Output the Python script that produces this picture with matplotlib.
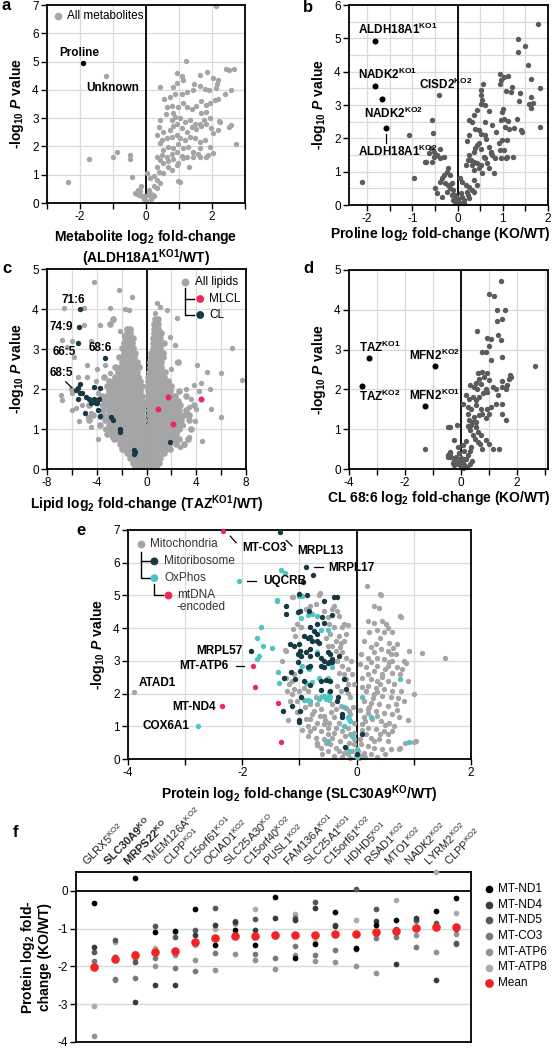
import matplotlib
matplotlib.use('Agg')
import matplotlib.pyplot as plt
import matplotlib.ticker as ticker
import numpy as np

plt.rcParams['font.family'] = ['Liberation Sans', 'DejaVu Sans']
plt.rcParams['axes.unicode_minus'] = False
plt.rcParams['mathtext.fontset'] = 'custom'
plt.rcParams['mathtext.rm'] = 'Liberation Sans'
plt.rcParams['mathtext.it'] = 'Liberation Sans:italic:bold'
plt.rcParams['mathtext.bf'] = 'Liberation Sans:bold'

# ---------------- data: panel a (metabolites, ALDH18A1 KO1 / WT) ----------------
metab_points = [
    (-2.37, 0.74), (-1.74, 1.57), (-1.22, 4.49), (-1.00, 1.64), (-0.87, 1.79), (-0.47, 1.68), (-0.49, 1.56),
    (-0.42, 0.93), (-0.16, 0.61), (-0.24, 0.47), (-0.34, 0.35), (-0.27, 0.33), (-0.12, 0.23), (-0.05, 0.14),
    (0.00, 0.08), (-0.20, 0.30), (2.13, 6.97), (1.20, 5.02),
    (0.43, 4.10), (0.93, 4.60), (1.08, 4.48), (0.93, 4.24), (1.11, 4.34), (0.83, 4.10),
    (1.63, 4.51), (1.85, 4.62), (2.03, 4.43), (2.18, 4.34), (2.16, 4.19), (2.41, 4.75), (2.51, 4.69), (2.68, 4.72),
    (0.56, 3.66), (0.73, 3.75), (0.88, 3.85), (1.08, 3.87), (1.23, 3.93), (1.43, 3.99), (1.46, 4.19), (1.63, 4.13),
    (1.78, 4.04), (1.90, 3.99), (2.11, 4.08), (2.18, 3.66), (2.38, 3.87), (2.58, 3.99),
    (0.63, 3.40), (0.78, 3.42), (0.83, 3.17), (0.98, 3.38), (1.11, 3.52), (1.23, 3.40), (1.38, 3.34), (1.53, 3.42),
    (1.68, 3.60), (1.83, 3.46), (1.95, 3.52), (2.08, 3.63), (1.68, 3.17), (1.83, 3.22),
    (0.43, 2.95), (0.61, 3.14), (0.78, 2.93), (0.88, 3.05), (1.03, 2.99), (1.18, 2.87), (1.33, 2.93), (1.48, 2.81),
    (1.63, 2.79), (1.75, 2.93), (1.93, 2.99), (2.23, 2.87), (2.58, 2.74),
    (0.38, 2.70), (0.53, 2.52), (0.73, 2.58), (0.83, 2.72), (0.93, 2.79), (1.08, 2.64), (1.23, 2.52), (1.38, 2.70),
    (1.53, 2.60), (1.68, 2.72), (1.83, 2.81), (1.98, 2.64), (2.18, 2.58),
    (0.33, 2.40), (0.48, 2.23), (0.63, 2.29), (0.78, 2.34), (0.93, 2.40), (1.03, 2.29), (1.18, 2.23), (1.33, 2.34),
    (1.48, 2.29), (1.63, 2.17), (1.78, 2.23), (1.93, 1.99), (2.03, 2.46),
    (0.43, 2.11), (0.53, 1.88), (0.68, 1.99), (0.83, 1.93), (0.98, 2.09), (1.13, 1.93), (1.28, 1.99), (1.43, 1.82),
    (1.63, 1.93), (1.81, 1.64), (2.03, 1.76), (2.20, 2.90),
    (0.33, 1.64), (0.48, 1.70), (0.63, 1.64), (0.78, 1.74), (0.93, 1.82), (1.08, 1.66), (1.23, 1.62), (1.43, 1.64),
    (1.58, 1.74), (1.88, 1.70), (2.53, 2.70), (2.73, 2.08),
    (0.43, 1.52), (0.53, 1.41), (0.68, 1.47), (0.83, 1.55), (0.98, 1.41), (1.13, 1.58), (1.31, 1.29), (1.63, 1.64),
    (0.33, 1.29), (0.38, 1.11), (0.53, 1.06), (0.68, 1.29), (0.78, 1.15), (0.93, 1.35), (0.98, 0.78),
    (0.03, 1.06), (0.13, 0.88), (0.23, 0.94), (0.33, 0.82), (0.43, 0.70), (0.23, 0.59), (0.33, 0.53), (1.03, 0.76),
    (0.08, 0.47), (0.13, 0.35), (0.18, 0.23), (0.23, 0.23), (0.06, 0.27), (-0.07, 0.23), (-0.17, 0.41), (0.10, 0.40),
    (0.20, 0.30), (0.15, 0.15),
]
proline_point = (-1.90, 4.96)

# ---------------- data: panel b (proline, KO/WT) ----------------
proline_points = [
    (1.78, 5.43), (1.33, 4.99), (1.50, 4.77), (1.33, 4.59), (1.55, 4.19),
    (0.94, 3.94), (1.02, 3.84), (1.12, 3.86), (0.97, 3.74), (0.93, 3.64), (0.56, 3.64), (0.52, 3.44), (0.51, 3.29), (0.55, 3.14),
    (1.63, 3.77), (1.82, 3.51), (1.21, 3.54), (1.18, 3.39), (1.07, 3.41), (1.39, 3.37), (1.62, 3.24), (1.58, 3.04),
    (1.66, 3.07), (1.35, 3.11), (1.63, 2.91),
    (1.01, 2.89), (0.99, 2.79), (1.02, 2.59), (1.12, 2.51), (1.31, 2.57), (1.40, 2.24), (1.13, 2.27), (1.82, 2.34),
    (0.52, 3.04), (0.61, 2.99), (0.44, 2.84), (0.69, 2.82), (0.36, 2.69), (0.31, 2.49), (0.26, 2.54), (0.61, 2.49), (0.76, 2.41),
    (0.39, 2.29), (0.48, 2.24), (0.26, 2.09), (0.52, 2.14), (0.61, 2.09), (0.64, 1.99), (0.21, 1.91),
    (0.48, 1.87), (0.44, 1.79), (0.39, 1.71), (0.52, 1.69), (0.69, 1.74), (0.74, 1.60), (0.77, 1.50), (0.82, 1.40),
    (0.99, 1.94), (0.93, 1.65), (0.97, 1.42), (1.07, 1.42),
    (0.36, 1.60), (0.26, 1.50), (0.23, 1.35), (0.36, 1.30), (0.44, 1.25), (0.52, 1.20), (0.33, 1.20), (0.18, 1.20), (0.61, 1.40),
    (-0.42, 3.29), (-0.57, 2.54), (-0.55, 2.17), (-0.39, 1.69), (-0.53, 1.60), (-0.46, 1.50), (-0.31, 1.45), (-0.57, 1.30),
    (-0.72, 1.28), (-0.39, 1.40),
    (-0.21, 1.10), (-0.24, 1.00), (-0.17, 0.90), (-0.31, 0.90), (-0.35, 0.80), (-0.39, 0.70), (-0.28, 0.65), (-0.21, 0.60), (-0.13, 0.65),
    (-0.50, 0.50), (-0.46, 0.35), (-0.35, 0.25), (-0.24, 0.40), (-0.17, 0.50), (-0.10, 0.45),
    (0.06, 0.80), (0.10, 0.70), (0.18, 0.60), (0.26, 0.55), (0.31, 0.45), (0.36, 0.40), (0.23, 0.30), (0.10, 0.25),
    (-0.02, 0.20), (-0.06, 0.30), (-0.13, 0.30), (0.01, 0.10), (0.14, 0.15), (0.26, 0.20),
    (-2.11, 0.70), (-1.08, 2.11), (-0.97, 0.82), (-0.70, 1.28), (-0.59, 1.70), (-0.64, 1.55), (-0.51, 1.45),
    (0.05, 0.05), (-0.05, 0.08), (0.00, 0.15), (0.08, 0.35), (-0.10, 0.15), (0.15, 0.05), (0.20, 0.40),
    (0.66, 1.25), (0.73, 1.55), (0.59, 1.45), (0.80, 0.95), (0.70, 1.10), (0.48, 1.10), (0.37, 1.05), (0.29, 1.35),
    (0.55, 0.95), (0.37, 0.75), (0.42, 0.60),
    (1.10, 1.45), (1.23, 1.45), (1.03, 1.65), (0.92, 1.85), (1.10, 1.95), (1.25, 2.30), (1.06, 2.35), (0.84, 2.20),
    (0.95, 2.55), (1.43, 2.20),
]
proline_hits_x = [-1.83, -1.82, -1.66, -1.59]
proline_hits_y = [4.93, 3.56, 3.17, 2.32]

# ---------------- data: panel c (lipids, TAZ KO1 / WT) ----------------
# dense cloud, read row by row (-log10 P, fold-changes along the row)
lipid_row_p = [0.05, 0.15, 0.27, 0.39, 0.51, 0.63, 0.75, 0.87, 0.99, 1.11, 1.23, 1.35, 1.47, 1.59, 1.71, 1.83,
               1.95, 2.07, 2.19, 2.31, 2.43, 2.55, 2.67, 2.79, 2.91, 3.03, 3.15, 3.27, 3.39, 3.51, 3.63, 3.75]
lipid_row_fc = [
    [-0.9, -0.6, -0.3, 0, 0.3, 0.6, 0.8],
    [-1.1, -0.8, -0.5, -0.2, 0.1, 0.4, 0.7, 1.0],
    [-1.3, -1.0, -0.7, -0.4, -0.1, 0.2, 0.5, 0.8, 1.1],
    [-1.6, -1.3, -1.0, -0.7, -0.4, -0.1, 0.2, 0.5, 0.8, 1.1, 1.4],
    [-2.0, -1.7, -1.4, -1.1, -0.8, -0.5, -0.2, 0.1, 0.4, 0.7, 1.0, 1.3, 1.6, 1.9],
    [-2.1, -1.8, -1.5, -1.2, -0.9, -0.6, -0.3, 0, 0.3, 0.6, 0.9, 1.2, 1.5, 1.8, 2.4, 3.0],
    [-2.6, -2.3, -2.0, -1.7, -1.4, -1.1, -0.8, -0.5, -0.2, 0.1, 0.4, 0.7, 1.0, 1.3, 1.6, 2.0, 2.3, 2.6, 3.3],
    [-3.2, -2.7, -2.4, -2.1, -1.8, -1.5, -1.2, -0.9, -0.6, -0.3, 0, 0.3, 0.6, 0.9, 1.2, 1.5, 1.8, 2.1, 2.4],
    [-2.9, -2.6, -2.3, -2.0, -1.7, -1.4, -1.1, -0.8, -0.5, -0.2, 0.1, 0.4, 0.7, 1.0, 1.3, 1.6, 1.9, 2.2, 2.6, 3.6],
    [-3.7, -3.0, -2.7, -2.4, -2.1, -1.8, -1.5, -1.2, -0.9, -0.6, -0.3, 0.2, 0.5, 0.8, 1.1, 1.4, 1.7, 2.0, 2.3, 2.7],
    [-4.6, -3.3, -2.9, -2.6, -2.3, -2.0, -1.7, -1.4, -1.1, -0.8, -0.5, -0.2, 0.3, 0.6, 0.9, 1.2, 1.5, 1.8, 2.1, 2.4, 2.8, 3.4],
    [-4.3, -3.6, -3.1, -2.8, -2.5, -2.2, -1.9, -1.6, -1.3, -1.0, -0.7, -0.4, 0.2, 0.5, 0.8, 1.1, 1.4, 1.7, 2.0, 2.3, 2.6, 3.0, 3.4],
    [-3.5, -3.0, -2.7, -2.4, -2.1, -1.8, -1.5, -1.2, -0.9, -0.6, -0.3, 0.2, 0.5, 0.8, 1.1, 1.4, 1.7, 2.0, 2.3, 2.6, 3.2],
    [-4.6, -3.2, -2.9, -2.6, -2.3, -2.0, -1.7, -1.4, -1.1, -0.8, -0.5, -0.2, 0.2, 0.5, 0.8, 1.1, 1.4, 1.7, 2.0, 2.3, 2.7, 3.8],
    [-3.4, -3.0, -2.7, -2.4, -2.1, -1.8, -1.5, -1.2, -0.9, -0.6, -0.3, 0.1, 0.4, 0.7, 1.0, 1.3, 1.6, 1.9, 2.2, 2.5],
    [-3.6, -3.2, -2.8, -2.5, -2.2, -1.9, -1.6, -1.3, -1.0, -0.7, -0.4, 0.15, 0.45, 0.75, 1.05, 1.35, 1.65, 1.95, 2.3, 3.2],
    [-3.0, -2.6, -2.3, -2.0, -1.7, -1.4, -1.1, -0.8, -0.5, 0.1, 0.4, 0.7, 1.0, 1.3, 1.6, 1.9, 2.6],
    [-3.2, -2.8, -2.5, -2.2, -1.9, -1.6, -1.3, -1.0, -0.7, -0.4, 0.1, 0.4, 0.7, 1.0, 1.3, 1.6, 2.0],
    [-3.0, -2.6, -2.3, -2.0, -1.7, -1.4, -1.1, -0.8, -0.5, 0.1, 0.4, 0.7, 1.0, 1.3, 1.7],
    [-3.4, -2.5, -2.2, -1.9, -1.6, -1.3, -1.0, -0.7, 0.15, 0.45, 0.75, 1.05, 1.4],
    [-2.3, -2.0, -1.7, -1.4, -1.1, -0.8, 0.2, 0.5, 0.8, 1.1, 1.5],
    [-2.5, -2.1, -1.8, -1.5, -1.2, -0.9, -0.6, 0.3, 0.6, 0.9, 1.2],
    [-2.0, -1.7, -1.4, -1.1, -0.8, 0.3, 0.6, 0.9, 1.2, 2.5],
    [-2.2, -1.9, -1.6, -1.3, -1.0, 0.4, 0.7, 1.0, 1.3],
    [-1.8, -1.5, -1.2, -0.9, 0.4, 0.7, 1.0, 1.3],
    [-2.0, -1.7, -1.4, -1.1, 0.5, 0.8, 1.1],
    [-1.8, -1.5, -1.2, 0.5, 0.8, 1.1, 1.4],
    [-1.7, -1.4, -1.1, 0.5, 0.8, 1.1],
    [-1.6, -1.3, 0.6, 0.9, 1.2],
    [-1.6, -1.3, 0.6, 0.9],
    [-2.9, 0.6, 0.9],
    [-2.7, 0.7, 0.95],
]
lipid_sparse = [
    (-4.24, 4.68), (-2.23, 4.48), (-2.90, 4.02), (-1.15, 4.31), (-6.65, 4.02), (-5.04, 4.02), (-3.70, 3.60),
    (-6.78, 3.23), (-6.38, 3.06), (-1.69, 4.00), (-1.42, 3.97), (-2.68, 3.73), (-2.15, 3.44), (-1.80, 3.35),
    (-4.50, 3.20), (-5.80, 2.80), (-4.80, 2.60), (-4.00, 2.50), (-3.30, 2.60), (-2.90, 2.40), (-6.90, 1.85),
    (-6.80, 1.72), (-5.98, 1.48), (-5.70, 1.52), (-5.20, 1.60), (-5.40, 1.20), (-4.70, 1.30), (-4.50, 1.40),
    (-3.75, 1.30), (-3.60, 1.60), (-3.90, 1.90), (-4.10, 2.20), (-4.80, 2.30), (-3.30, 1.00), (-2.80, 0.80),
    (-3.90, 0.75), (-4.50, 1.05), (-6.00, 1.90), (-6.10, 2.00), (-5.50, 2.30), (-6.00, 3.20), (-5.00, 3.60),
    (0.86, 4.14), (1.66, 3.98), (2.47, 3.77), (1.10, 4.05), (0.70, 3.90), (2.33, 3.10), (2.47, 2.68), (4.08, 2.60),
    (6.89, 3.02), (7.70, 2.23), (4.88, 2.43), (5.95, 2.39), (5.95, 1.31), (3.40, 1.55), (3.60, 1.75), (4.20, 1.95),
    (3.20, 2.00), (4.00, 1.50), (3.90, 1.20), (2.90, 1.10), (4.50, 0.70), (3.40, 0.80), (3.00, 0.60), (2.70, 0.55),
    (4.40, 2.15), (3.80, 2.10), (1.90, 3.30), (2.00, 2.50), (5.12, 1.99), (5.20, 1.50),
]
cl_points = [
    (-5.36, 3.99), (-5.39, 3.55), (-5.52, 3.15), (-3.32, 2.77),
    (-5.34, 2.12), (-5.47, 2.02), (-5.68, 1.97), (-5.36, 1.89), (-5.15, 1.91), (-5.52, 1.74), (-4.88, 1.81),
    (-4.26, 2.04), (-4.61, 1.74), (-4.21, 1.74), (-4.08, 1.64), (-4.48, 1.64), (-3.94, 1.64), (-3.81, 1.76),
    (-3.75, 2.02), (-4.91, 1.41), (-3.91, 1.47), (-3.73, 1.33), (-2.87, 1.30), (-2.73, 1.22), (-2.14, 0.99),
    (-2.12, 0.93), (-0.99, 0.48), (-0.94, 0.42), (-0.97, 0.37), (1.90, 0.68),
]
mlcl_fc = [1.69, 0.94, 2.14, 4.37]
mlcl_p = [1.81, 1.50, 1.12, 1.74]

# ---------------- data: panel d (CL 68:6, KO/WT) ----------------
cl686_points = [
    (1.44, 4.72), (1.00, 4.40), (1.18, 4.35), (1.27, 3.99), (1.55, 3.99), (1.29, 3.72), (1.47, 3.76), (0.56, 3.46),
    (1.32, 3.36), (1.41, 3.24), (0.94, 3.28), (1.06, 3.26), (1.00, 3.09), (0.76, 2.94), (0.88, 2.93), (1.47, 2.82),
    (1.06, 2.75), (2.62, 2.58), (0.59, 2.40), (0.74, 2.44), (0.82, 2.32), (0.65, 2.27), (0.94, 2.40), (0.53, 2.15),
    (1.76, 2.36), (1.79, 2.30), (1.71, 2.25),
    (0.33, 2.11), (0.45, 2.06), (0.55, 2.02), (0.71, 2.13), (0.88, 2.02), (1.00, 2.23), (1.12, 2.06), (1.24, 2.02),
    (1.33, 1.85), (1.47, 2.06), (1.59, 2.02), (1.65, 2.11), (1.47, 2.20),
    (0.18, 1.85), (0.29, 1.77), (0.41, 1.81), (0.53, 1.73), (0.65, 1.81), (0.79, 1.90), (0.94, 1.94),
    (0.06, 1.64), (0.24, 1.56), (0.35, 1.52), (0.53, 1.60), (0.71, 1.52), (0.76, 1.39), (0.91, 1.52), (1.06, 1.56),
    (1.24, 1.64), (1.00, 1.39), (0.88, 1.27), (0.65, 1.35), (0.53, 1.18), (0.47, 1.31),
    (1.47, 1.64), (1.59, 1.22), (1.47, 1.39),
    (0.24, 1.39), (0.29, 1.22), (0.35, 1.10), (0.41, 1.18), (0.53, 1.06), (0.59, 0.93), (0.71, 0.85), (0.88, 0.72),
    (1.00, 0.64), (1.12, 0.51), (1.35, 0.51), (0.76, 0.51),
    (0.26, 1.07), (0.33, 0.97), (0.41, 0.85), (0.51, 0.76), (0.59, 0.68), (0.67, 0.64),
    (0.00, 0.05), (0.06, 0.15), (0.12, 0.10), (-0.06, 0.20), (-0.12, 0.12), (0.18, 0.25), (0.24, 0.35), (0.30, 0.45),
    (0.35, 0.55), (-0.18, 0.30), (-0.24, 0.20), (-0.30, 0.15), (-0.35, 0.30), (-0.41, 0.42), (-0.47, 0.35),
    (-0.24, 0.10), (0.20, 0.05), (0.30, 0.12), (0.40, 0.20), (0.12, 0.45), (-0.06, 0.40), (0.06, 0.60), (0.18, 0.70),
    (-0.12, 0.55), (0.10, 0.25), (-0.02, 0.28), (0.08, 0.02),
    (-0.47, 1.06), (-0.41, 1.06), (-0.14, 1.10), (-0.24, 0.74), (-0.41, 0.41), (-0.47, 0.30), (-1.29, 0.50),
]
cl686_hits_x = [-3.29, -3.55, -0.93, -1.29]
cl686_hits_y = [2.79, 2.08, 2.59, 1.59]

# ---------------- data: panel e (proteins, SLC30A9 KO / WT) ----------------
mito_points = [
    (-1.13, 4.94), (-0.66, 5.02), (0.42, 5.02), (-3.90, 2.06), (0.18, 5.30), (0.41, 5.04), (0.76, 4.36),
    (1.15, 3.25), (1.55, 3.10), (0.87, 2.93), (1.03, 0.54), (0.76, 0.34), (-1.25, 3.34), (-0.70, 0.44),
    (-1.12, 4.94), (-0.64, 5.07),
    (-0.40, 4.68), (-0.43, 4.58), (-0.34, 4.53), (-0.31, 4.38), (-0.22, 4.14), (-0.16, 4.10), (-0.25, 4.02),
    (-0.19, 3.82), (-0.31, 3.77), (-0.37, 3.61), (-0.28, 3.56), (-0.22, 3.61), (-0.29, 3.41), (-0.25, 3.26),
    (-0.19, 3.10), (-0.34, 3.00), (-0.25, 2.85), (-0.16, 2.74), (-0.31, 2.64), (-0.22, 2.59), (-0.19, 2.44),
    (-0.16, 2.29), (-0.34, 2.23), (-0.28, 2.08), (-0.16, 2.03), (-0.11, 1.88), (-0.43, 1.67), (-0.37, 1.52),
    (-0.28, 1.62), (-0.19, 1.57), (-0.13, 1.47), (-0.11, 1.37), (-0.40, 1.27), (-0.31, 1.11), (-0.37, 0.96),
    (-0.25, 0.86), (-0.16, 0.96), (-0.11, 0.76), (-0.05, 0.60), (-0.13, 0.50), (-0.19, 0.35), (-0.08, 0.24),
    (-0.05, 0.45), (-0.02, 0.09), (0.04, 0.04), (-0.11, 0.04),
    (-0.69, 1.67), (-0.63, 1.52), (-0.75, 1.47), (-0.57, 1.32), (-0.81, 1.21), (-0.69, 1.11), (-0.57, 1.06),
    (-0.48, 1.11), (-0.75, 0.96), (-0.63, 0.86), (-0.51, 0.76), (-0.81, 0.86), (-0.72, 0.65), (-0.57, 0.60),
    (-0.43, 0.65), (-0.46, 0.45), (-0.37, 0.35), (-0.31, 0.24), (-0.22, 0.19), (-0.51, 0.24), (-0.63, 0.35),
    (-0.54, 0.50), (-0.86, 1.01), (-0.89, 1.21), (-0.78, 1.37),
    (-1.10, 2.59), (-1.13, 2.39), (-1.10, 2.13), (-1.01, 2.08), (-0.92, 2.18), (-0.86, 2.08), (-1.13, 1.98),
    (-1.04, 1.78), (-0.81, 1.67), (-0.72, 1.88), (-1.24, 3.31), (-1.30, 3.00), (-1.23, 2.49), (-1.19, 2.29),
    (-1.21, 2.08), (-1.16, 1.78),
    (-0.57, 4.53), (-0.51, 4.33), (-0.48, 4.12), (-0.40, 4.02), (-0.46, 3.82), (-0.54, 3.71), (-0.43, 3.46),
    (-0.51, 3.46), (-0.37, 3.31), (-0.72, 4.73), (-0.81, 4.68), (-0.89, 4.58), (-1.04, 4.12), (-1.11, 3.97),
    (-1.07, 3.77), (-0.97, 4.02),
    (0.39, 4.63), (0.30, 4.68), (0.51, 4.12), (0.45, 4.22), (0.48, 3.87), (0.77, 4.33), (0.30, 4.17), (0.19, 4.22),
    (0.62, 3.87), (0.22, 3.87), (0.71, 3.51), (0.57, 3.56), (0.33, 3.51), (0.25, 3.41), (0.42, 3.36), (0.30, 3.26),
    (0.54, 3.31), (0.68, 3.20), (0.19, 3.10), (0.36, 3.10), (0.48, 3.05), (0.62, 3.00), (0.83, 3.00), (0.25, 2.95),
    (0.16, 2.80), (0.36, 2.85), (0.54, 2.85), (0.71, 2.80), (0.30, 2.69), (0.19, 2.59), (0.45, 2.59), (0.62, 2.64),
    (0.80, 2.74), (0.10, 2.49), (0.25, 2.44), (0.36, 2.39), (0.54, 2.39), (0.65, 2.29), (0.89, 2.39), (0.19, 2.23),
    (0.33, 2.18), (0.48, 2.13), (0.62, 2.08), (0.16, 2.08), (0.30, 1.98), (0.45, 1.93), (0.60, 1.88), (0.77, 2.08),
    (0.13, 1.78), (0.25, 1.72), (0.39, 1.67), (0.54, 1.62), (0.68, 1.67), (0.83, 1.78), (0.19, 1.52), (0.33, 1.47),
    (0.48, 1.42), (0.62, 1.37), (0.13, 1.27), (0.27, 1.21), (0.42, 1.16), (0.57, 1.11), (0.74, 1.27), (0.10, 1.06),
    (0.19, 0.96), (0.33, 0.91), (0.48, 0.86), (0.62, 0.86), (0.16, 0.76), (0.25, 0.65), (0.39, 0.60), (0.54, 0.55),
    (0.74, 0.30), (1.00, 0.52), (0.07, 0.45), (0.19, 0.40), (0.30, 0.35), (0.45, 0.30), (0.13, 0.19), (0.25, 0.14),
    (0.05, 0.60), (0.10, 0.90), (0.15, 1.15), (0.20, 1.40), (0.22, 1.60), (0.28, 1.85), (0.35, 2.05), (0.40, 2.30),
    (0.45, 2.50), (0.50, 2.75), (0.56, 2.95), (0.60, 3.20), (0.64, 3.40), (0.40, 3.70), (0.55, 4.00), (0.35, 3.95),
    (0.12, 3.60), (0.08, 3.20), (0.05, 2.90), (0.10, 2.20), (0.05, 1.50), (0.35, 1.30), (0.50, 1.05), (0.40, 0.75),
    (0.30, 0.55), (0.55, 0.75), (0.65, 1.00), (0.70, 1.50), (0.72, 1.85), (0.75, 2.60), (0.92, 3.30), (1.00, 2.00),
    (0.90, 1.20), (0.85, 0.50), (0.60, 0.30), (0.50, 0.15), (0.35, 0.05), (0.15, 0.05), (0.08, 0.10), (0.02, 0.25),
    (-0.05, 1.10), (-0.07, 1.60), (-0.05, 2.30), (-0.09, 2.60), (-0.10, 3.00), (-0.05, 0.80), (-0.20, 0.70),
    (-0.30, 0.55), (-0.40, 0.80), (-0.50, 0.95), (-0.55, 1.20), (-0.65, 1.30), (-0.45, 1.45), (-0.70, 0.50),
    (-0.85, 0.70), (-0.95, 0.90), (-0.60, 0.15), (-0.40, 0.10), (-0.25, 0.05), (-0.15, 0.15), (-1.05, 1.45),
    (-1.20, 1.20), (-0.90, 1.60),
]
mitoribosome_points = [
    (-1.34, 6.94), (-0.89, 5.86), (-0.76, 5.63), (-0.94, 5.40), (-1.85, 3.30),
    (-1.00, 5.05), (-0.87, 5.02), (-0.57, 4.83), (-0.40, 4.94), (-0.34, 4.94), (-1.23, 4.68), (-1.23, 4.43),
    (-1.02, 4.48), (-0.99, 4.53), (-0.84, 4.53), (-0.44, 4.41),
    (-0.60, 4.35), (-0.57, 4.17), (-0.70, 4.12), (-0.81, 4.02), (-0.75, 3.92), (-0.82, 3.73), (-0.69, 3.82),
    (-0.78, 3.61), (-0.86, 3.71), (-0.93, 3.77), (-1.01, 3.51), (-0.70, 3.61), (-0.66, 3.56), (-1.16, 3.51),
    (-1.10, 3.46), (-0.99, 3.31), (-1.03, 3.20), (-0.98, 3.15), (-0.89, 3.26), (-0.82, 3.36), (-0.82, 3.15),
    (-0.69, 3.20), (-0.63, 3.10), (-0.51, 3.26), (-0.46, 3.20), (-0.43, 3.05), (-0.31, 3.15), (-0.57, 3.00),
    (-0.51, 2.92), (-0.48, 2.98), (-0.43, 2.95), (-1.03, 2.95), (-0.99, 2.69), (-0.81, 2.85), (-0.63, 2.85),
    (-0.57, 2.80), (-0.85, 2.80), (-1.07, 2.44), (-0.92, 2.39), (-0.81, 2.27), (-0.63, 2.39), (-0.53, 2.41),
    (-0.46, 2.37), (-0.22, 2.44), (-0.63, 2.10), (-0.46, 2.08), (-0.19, 2.13), (-0.98, 1.90), (-0.32, 1.90),
    (-0.34, 1.78), (-1.13, 1.62), (-0.99, 1.47), (-1.01, 1.13), (-0.25, 1.37), (-0.25, 1.27), (0.10, 0.76),
    (-0.20, 0.37), (0.01, 0.14), (-1.14, 2.66), (-1.27, 2.47), (-1.28, 1.48), (-1.00, 1.19),
]
oxphos_points = [
    (-2.06, 5.45), (-1.32, 5.79), (-1.26, 5.68), (-1.39, 4.87), (-2.78, 1.01), (-0.99, 5.02),
    (-1.01, 4.97), (-0.95, 4.97), (-1.40, 4.84), (-0.86, 4.41), (-0.78, 4.43), (-0.70, 4.38), (-0.98, 4.31),
    (-0.63, 3.94), (-0.51, 3.94), (-1.67, 4.04), (-1.74, 3.71), (-1.63, 3.46), (-1.48, 3.38), (-1.71, 3.15),
    (-1.74, 3.05), (-0.70, 3.28), (-0.95, 2.85), (-0.84, 2.74), (-0.43, 2.82), (-1.38, 2.66), (-1.36, 2.31),
    (-0.66, 2.47), (-0.51, 2.49), (-0.78, 2.34), (-0.89, 2.31), (-0.48, 2.06), (-0.63, 1.90), (-0.57, 1.93),
    (-0.51, 1.88), (-0.66, 1.83), (-0.54, 1.83), (-0.46, 1.88), (-0.86, 1.80), (-0.92, 1.80), (-0.81, 1.78),
    (-0.48, 1.80), (-0.22, 1.59), (-0.16, 1.27), (-0.13, 1.21), (-0.11, 1.16), (-0.22, 1.01), (0.10, 1.88),
    (0.25, 1.29), (-0.09, 0.70), (-0.50, 0.55), (0.01, 0.30), (-0.13, 0.24), (0.75, 2.46), (0.92, 0.52), (0.00, 0.05),
]
mtdna_fc = [-2.33, -1.82, -1.77, -2.35, -1.37, -1.32]
mtdna_p = [6.97, 2.85, 2.20, 1.63, 1.71, 0.52]

# ---------------- data: panel f (mtDNA-encoded proteins across KO lines) ----------------
ko_lines = ['GLRX5$^{\\mathrm{KO2}}$', 'SLC30A9$^{\\mathbf{KO}}$', 'MRPS22$^{\\mathbf{KO}}$', 'TMEM126A$^{\\mathrm{KO2}}$',
            'CLPP$^{\\mathrm{KO1}}$', 'C15orf61$^{\\mathrm{KO1}}$', 'OCIAD1$^{\\mathrm{KO2}}$', 'SLC25A30$^{\\mathrm{KO}}$',
            'C15orf40$^{\\mathrm{KO2}}$', 'PUSL1$^{\\mathrm{KO2}}$', 'FAM136A$^{\\mathrm{KO1}}$', 'SLC25A1$^{\\mathrm{KO1}}$',
            'C15orf61$^{\\mathrm{KO2}}$', 'HDHD5$^{\\mathrm{KO1}}$', 'RSAD1$^{\\mathrm{KO2}}$', 'MTO1$^{\\mathrm{KO2}}$',
            'NADK2$^{\\mathrm{KO2}}$', 'LYRM2$^{\\mathrm{KO2}}$', 'CLPP$^{\\mathrm{KO2}}$']
bold_lines = [1, 2]
mt_nd1 = [-0.33, -1.78, 0.35, -1.09, -1.06, -0.48, -1.42, -1.04, -1.42, -0.17, -1.77, -1.40, -0.55, -1.50, -0.90, -0.78, -0.95, -0.54, -0.19]
mt_nd4 = [-1.49, -1.74, -2.94, -2.50, -2.48, -1.16, -0.89, -0.82, -1.04, -0.72, -0.78, -0.45, -0.94, -1.55, -0.81, -1.93, -0.72, -2.35, -1.00]
mt_nd5 = [-1.63, -1.29, -1.87, -0.94, -1.22, -1.03, -0.45, -1.20, -0.74, -1.15, -0.72, -0.29, -0.90, 0.04, -0.48, -1.00, -0.76, -0.84, -1.37]
mt_co3 = [-1.85, -2.33, -2.30, -1.78, -2.04, -2.11, -1.65, -0.80, -1.66, -1.77, -1.46, -1.70, -1.57, -1.13, -1.26, -1.22, -1.48, -0.96, -1.41]
mt_atp6 = [-3.83, -2.35, -1.78, -1.98, -1.71, -1.83, -2.09, -1.67, -1.83, -2.06, -1.70, -1.85, -1.88, -2.00, -2.17, -1.10, -1.16, -1.61, -1.15]
mt_atp8 = [-3.04, -1.35, -1.65, -1.52, -1.10, -1.43, -1.02, -0.87, -0.48, -1.20, -0.61, -1.35, -1.15, -0.77, -1.10, -0.24, -0.81, 0.50, -0.59]
mt_mean = [-2.02, -1.81, -1.70, -1.63, -1.59, -1.34, -1.24, -1.20, -1.19, -1.18, -1.17, -1.17, -1.15, -1.14, -1.10, -1.05, -0.99, -0.96, -0.96]
gene_names = ['MT-ND1', 'MT-ND4', 'MT-ND5', 'MT-CO3', 'MT-ATP6', 'MT-ATP8']
gene_colors = ['#000000', '#3a3a3a', '#575757', '#787878', '#939393', '#ababab']

# ---------------- styling constants ----------------
LIGHT = '#a5a5a8'
DARK = '#5b5b5b'
NAVY = '#163a44'
TEAL = '#4fc4c2'
PINK = '#ea2a5e'
GRID = '#dadada'
PTS = 15
ANN = 8.5

W, H = 552, 1050
fig = plt.figure(figsize=(W / 100, H / 100), dpi=100)


def add_px_axes(left, top, right, bottom):
    return fig.add_axes([left / W, 1 - bottom / H, (right - left) / W, (bottom - top) / H])


def style_volcano(ax, xlim, ylim, xmajor, xminor, ygrid):
    ax.set_xlim(xlim)
    ax.set_ylim(ylim)
    ax.xaxis.set_major_locator(ticker.MultipleLocator(xmajor))
    ax.xaxis.set_minor_locator(ticker.MultipleLocator(xminor))
    ax.yaxis.set_major_locator(ticker.MultipleLocator(1))
    ax.yaxis.set_minor_locator(ticker.MultipleLocator(ygrid))
    ax.grid(True, which='both', color=GRID, lw=0.9)
    ax.set_axisbelow(True)
    ax.tick_params(which='both', direction='out', length=4, width=1, labelsize=8.5, pad=2)
    ax.tick_params(axis='y', which='minor', length=0)
    ax.axvline(0, color='black', lw=1.3, zorder=1.5)
    for s in ax.spines.values():
        s.set_linewidth(1.3)
    ax.set_ylabel('-log$_{\\mathbf{10}}$ $P$ value', fontsize=10, fontweight='bold', labelpad=4)


def scatter_pairs(ax, pairs, color, size=PTS, z=2):
    arr = np.array(pairs)
    ax.scatter(arr[:, 0], arr[:, 1], s=size, color=color, linewidths=0, zorder=z, clip_on=False)


def bold(ax, x, y, s, **kw):
    ax.text(x, y, s, fontsize=ANN, fontweight='bold', **kw)


# ---------------- panel a ----------------
ax_a = add_px_axes(47, 5, 245, 203)
style_volcano(ax_a, (-3, 3), (0, 7), 2, 1, 1)
scatter_pairs(ax_a, metab_points, LIGHT)
ax_a.scatter([proline_point[0]], [proline_point[1]], s=PTS, color='black', linewidths=0, zorder=3)
bold(ax_a, -2.02, 5.3, 'Proline', ha='center', va='center')
bold(ax_a, -1.0, 4.08, 'Unknown', ha='center', va='center')
ax_a.scatter([0.056], [0.944], s=30, color=LIGHT, linewidths=0, transform=ax_a.transAxes)
ax_a.text(0.1, 0.944, 'All metabolites', fontsize=8.5, va='center', transform=ax_a.transAxes)
ax_a.set_xlabel('Metabolite log$_{\\mathbf{2}}$ fold-change\n(ALDH18A1$^{\\mathbf{KO1}}$/WT)',
                fontsize=10, fontweight='bold', labelpad=3, linespacing=1.1)

# ---------------- panel b ----------------
ax_b = add_px_axes(349, 5, 548, 205)
style_volcano(ax_b, (-2.4, 2.0), (0, 6), 1, 0.5, 0.5)
scatter_pairs(ax_b, proline_points, DARK)
ax_b.scatter(proline_hits_x, proline_hits_y, s=PTS + 4, color='black', linewidths=0, zorder=3)
bold(ax_b, -2.21, 5.28, 'ALDH18A1$^{\\mathbf{KO1}}$', ha='left', va='center')
bold(ax_b, -2.21, 3.92, 'NADK2$^{\\mathbf{KO1}}$', ha='left', va='center')
bold(ax_b, -2.07, 2.74, 'NADK2$^{\\mathbf{KO2}}$', ha='left', va='center')
bold(ax_b, -2.21, 1.60, 'ALDH18A1$^{\\mathbf{KO2}}$', ha='left', va='center')
bold(ax_b, -0.86, 3.61, 'CISD2$^{\\mathbf{KO2}}$', ha='left', va='center')
ax_b.plot([-1.59, -1.59], [2.14, 1.86], color='black', lw=0.9)
ax_b.set_xlabel('Proline log$_{\\mathbf{2}}$ fold-change (KO/WT)', fontsize=10, fontweight='bold', labelpad=3,
                ha='right')
ax_b.xaxis.set_label_coords((551 - 349) / 199, -0.1)

# ---------------- panel c ----------------
ax_c = add_px_axes(47, 269, 246, 469)
style_volcano(ax_c, (-8, 8), (0, 5), 4, 2, 1)
for p, row in zip(lipid_row_p, lipid_row_fc):
    ax_c.scatter(row, [p] * len(row), s=PTS + 8, color=LIGHT, linewidths=0, zorder=2)
scatter_pairs(ax_c, lipid_sparse, LIGHT)
scatter_pairs(ax_c, cl_points, NAVY, z=3)
ax_c.scatter(mlcl_fc, mlcl_p, s=PTS + 4, color=PINK, linewidths=0, zorder=3)
bold(ax_c, -5.87, 4.23, '71:6', ha='center', va='center')
bold(ax_c, -6.89, 3.55, '74:9', ha='center', va='center')
bold(ax_c, -6.57, 2.93, '66:5', ha='center', va='center')
bold(ax_c, -3.73, 3.02, '68:6', ha='center', va='center')
bold(ax_c, -6.81, 2.41, '68:5', ha='center', va='center')
ax_c.plot([-6.49, -6.0], [2.18, 2.03], color='black', lw=0.9)
# legend with bracket
ax_c.scatter([0.693], [0.935], s=32, color=LIGHT, linewidths=0, transform=ax_c.transAxes, zorder=4)
ax_c.text(0.745, 0.935, 'All lipids', fontsize=8.5, va='center', transform=ax_c.transAxes)
ax_c.scatter([0.77, 0.77], [0.85, 0.77], s=32, color=[PINK, NAVY], linewidths=0, transform=ax_c.transAxes, zorder=4)
ax_c.text(0.815, 0.85, 'MLCL', fontsize=8.5, va='center', transform=ax_c.transAxes)
ax_c.text(0.815, 0.77, 'CL', fontsize=8.5, va='center', transform=ax_c.transAxes)
ax_c.plot([0.693, 0.693, 0.74], [0.905, 0.77, 0.77], color='black', lw=1, transform=ax_c.transAxes)
ax_c.plot([0.693, 0.74], [0.85, 0.85], color='black', lw=1, transform=ax_c.transAxes)
ax_c.set_xlabel('Lipid log$_{\\mathbf{2}}$ fold-change (TAZ$^{\\mathbf{KO1}}$/WT)', fontsize=10, fontweight='bold', labelpad=3)

# ---------------- panel d ----------------
ax_d = add_px_axes(349, 270, 548, 469)
style_volcano(ax_d, (-4, 3.1), (0, 5), 2, 1, 1)
scatter_pairs(ax_d, cl686_points, DARK)
ax_d.scatter(cl686_hits_x, cl686_hits_y, s=PTS + 4, color='black', linewidths=0, zorder=3)
bold(ax_d, -3.65, 3.05, 'TAZ$^{\\mathbf{KO1}}$', ha='left', va='center')
bold(ax_d, -3.65, 1.83, 'TAZ$^{\\mathbf{KO2}}$', ha='left', va='center')
bold(ax_d, -1.85, 2.86, 'MFN2$^{\\mathbf{KO2}}$', ha='left', va='center')
bold(ax_d, -1.85, 1.85, 'MFN2$^{\\mathbf{KO1}}$', ha='left', va='center')
ax_d.set_xlabel('CL 68:6 log$_{\\mathbf{2}}$ fold-change (KO/WT)', fontsize=10, fontweight='bold', labelpad=3,
                ha='right')
ax_d.xaxis.set_label_coords((551 - 349) / 199, -0.1)

# ---------------- panel e ----------------
ax_e = add_px_axes(128, 530, 471, 759)
style_volcano(ax_e, (-4, 2), (0, 7), 2, 1, 1)
scatter_pairs(ax_e, mito_points, LIGHT)
scatter_pairs(ax_e, oxphos_points, TEAL, z=3)
scatter_pairs(ax_e, mitoribosome_points, NAVY, z=3)
ax_e.scatter(mtdna_fc, mtdna_p, s=PTS, color=PINK, linewidths=0, zorder=4, clip_on=False)
bold(ax_e, -2.01, 6.45, 'MT-CO3', ha='left', va='center')
ax_e.plot([-2.21, -2.11], [6.81, 6.61], color='black', lw=0.9)
bold(ax_e, -1.04, 6.35, 'MRPL13', ha='left', va='center')
ax_e.plot([-1.23, -1.13], [6.68, 6.51], color='black', lw=0.9)
bold(ax_e, -0.50, 5.85, 'MRPL17', ha='left', va='center')
ax_e.plot([-0.75, -0.59], [5.86, 5.86], color='black', lw=0.9)
bold(ax_e, -1.64, 5.45, 'UQCRB', ha='left', va='center')
ax_e.plot([-1.92, -1.76], [5.45, 5.45], color='black', lw=0.9)
bold(ax_e, -2.0, 3.3, 'MRPL57', ha='right', va='center')
bold(ax_e, -2.24, 2.85, 'MT-ATP6', ha='right', va='center')
ax_e.plot([-2.11, -1.97], [2.85, 2.85], color='black', lw=0.9)
bold(ax_e, -3.81, 2.33, 'ATAD1', ha='left', va='center')
bold(ax_e, -2.47, 1.60, 'MT-ND4', ha='right', va='center')
bold(ax_e, -2.93, 1.01, 'COX6A1', ha='right', va='center')
# legend with brackets
ax_e.scatter([0.037], [0.937], s=32, color=LIGHT, linewidths=0, transform=ax_e.transAxes, zorder=5)
ax_e.text(0.065, 0.937, 'Mitochondria', fontsize=8.5, va='center', color='#333333', transform=ax_e.transAxes)
ax_e.scatter([0.077, 0.077], [0.863, 0.79], s=32, color=[NAVY, TEAL], linewidths=0, transform=ax_e.transAxes, zorder=5)
ax_e.text(0.105, 0.863, 'Mitoribosome', fontsize=8.5, va='center', color='#333333', transform=ax_e.transAxes)
ax_e.text(0.105, 0.79, 'OxPhos', fontsize=8.5, va='center', color='#333333', transform=ax_e.transAxes)
ax_e.scatter([0.117], [0.717], s=32, color=PINK, linewidths=0, transform=ax_e.transAxes, zorder=5)
ax_e.text(0.142, 0.717, 'mtDNA', fontsize=8.5, va='center', color='#333333', transform=ax_e.transAxes)
ax_e.text(0.142, 0.663, '-encoded', fontsize=8.5, va='center', color='#333333', transform=ax_e.transAxes)
ax_e.plot([0.039, 0.039, 0.065], [0.905, 0.79, 0.79], color='black', lw=1, transform=ax_e.transAxes)
ax_e.plot([0.039, 0.065], [0.863, 0.863], color='black', lw=1, transform=ax_e.transAxes)
ax_e.plot([0.077, 0.077, 0.103], [0.765, 0.717, 0.717], color='black', lw=1, transform=ax_e.transAxes)
ax_e.set_xlabel('Protein log$_{\\mathbf{2}}$ fold-change (SLC30A9$^{\\mathbf{KO}}$/WT)',
                fontsize=10, fontweight='bold', labelpad=3)

# ---------------- panel f ----------------
ax_f = add_px_axes(76, 872, 471, 1042)
idx = np.arange(len(ko_lines))
ax_f.set_xlim(-0.92, 18.75)
ax_f.set_ylim(-4, 0.5)
for vals, color in zip([mt_atp8, mt_atp6, mt_co3, mt_nd5, mt_nd4, mt_nd1], gene_colors[::-1]):
    ax_f.scatter(idx, vals, s=PTS + 2, color=color, linewidths=0, zorder=3, clip_on=False)
ax_f.scatter(idx, mt_mean, s=38, color='#f02424', linewidths=0, zorder=4)
ax_f.set_xticks([])
ax_f.yaxis.set_major_locator(ticker.MultipleLocator(1))
ax_f.tick_params(axis='y', direction='out', length=4, width=1, labelsize=8.5, pad=2)
for lvl in [-1, -2, -3]:
    ax_f.axhline(lvl, color=GRID, lw=1, zorder=1)
ax_f.axhline(0, color='black', lw=1.3, zorder=2)
for s in ax_f.spines.values():
    s.set_linewidth(1.3)
ax_f.set_ylabel('Protein log$_{\\mathbf{2}}$ fold-\nchange (KO/WT)', fontsize=10, fontweight='bold',
                labelpad=4, linespacing=1.05)
for i, name in enumerate(ko_lines):
    ax_f.text(i - 0.25, 0.6, name, rotation=45, rotation_mode='anchor', ha='left', va='bottom',
              fontsize=8, color='#222222', fontweight='bold' if i in bold_lines else 'normal', clip_on=False)
for k, (name, color) in enumerate(zip(gene_names + ['Mean'], gene_colors + ['#f02424'])):
    yy = (1042 - (889 + 15.7 * k)) / 170
    ax_f.scatter([1.046], [yy], s=30 if k < 6 else 40, color=color, linewidths=0,
                 transform=ax_f.transAxes, clip_on=False)
    ax_f.text(1.068, yy, name, fontsize=8.5, va='center', transform=ax_f.transAxes)

# ---------------- panel letters ----------------
for letter, (px, py) in zip('abcdef', [(2, 10), (303, 12), (2, 273), (303, 273), (76, 535), (13, 837)]):
    fig.text(px / W, 1 - py / H, letter, fontsize=12, fontweight='bold', va='baseline', ha='left')

fig.savefig('out.png', dpi=100)
